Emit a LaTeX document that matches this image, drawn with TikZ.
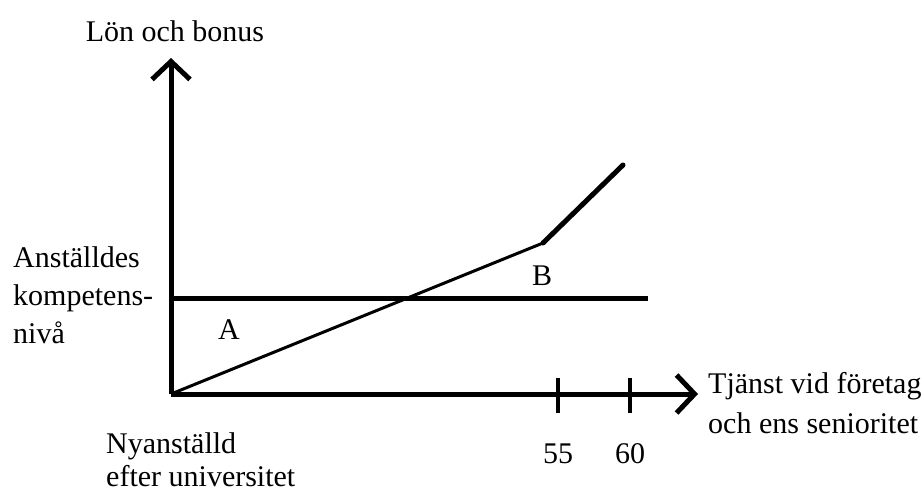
\documentclass[tikz,border=0pt]{standalone}
\usepackage{fontspec}
\setmainfont{Liberation Serif}
\usetikzlibrary{arrows.meta}
\begin{document}
\begin{tikzpicture}[x=1pt,y=-1pt,
  txt/.style={inner sep=0pt, anchor=base, font=\fontsize{30}{38}\selectfont},
  axis/.style={line width=5pt, -{Straight Barb[length=18pt,width=38pt,line width=5pt]}},
  thick line/.style={line width=5pt, line join=round}]
\useasboundingbox (0,0) rectangle (924,491);
\coordinate (o) at (171,394);
\coordinate (ytop) at (171,58);
\coordinate (xend) at (698,394);
\coordinate (k1) at (171,298);
\coordinate (k2) at (648,298);
\coordinate (kink) at (543,243);
\coordinate (top) at (623,165);
\coordinate (t1) at (558,378);
\coordinate (t1b) at (558,413);
\coordinate (t2) at (630,378);
\coordinate (t2b) at (630,413);
\node[txt] (ylab) at (175,41) {Lön och bonus};
\node[txt, anchor=base west] (k1lab) at (13,267) {Anställdes};
\node[txt, anchor=base west] (k2lab) at (13,305) {kompetens-};
\node[txt, anchor=base west] (k3lab) at (13,343) {nivå};
\node[txt] (a) at (229,339) {A};
\node[txt] (b) at (542,285) {B};
\node[txt, anchor=base west] (n1) at (106,453) {Nyanställd};
\node[txt, anchor=base west] (n2) at (106,486) {efter universitet};
\node[txt] (l55) at (558,463) {55};
\node[txt] (l60) at (630,463) {60};
\node[txt, anchor=base west] (x1) at (708,393) {Tjänst vid företag};
\node[txt, anchor=base west] (x2) at (708,433) {och ens senioritet};
\draw[axis] (o) -- (ytop);
\draw[axis] (o) -- (xend);
\draw[thick line] (k1) -- (k2);
\draw[line width=3pt] (o) -- (kink);
\draw[thick line, line cap=round] (kink) -- (top);
\draw[line width=4pt] (t1) -- (t1b);
\draw[line width=4pt] (t2) -- (t2b);
\end{tikzpicture}
\end{document}
